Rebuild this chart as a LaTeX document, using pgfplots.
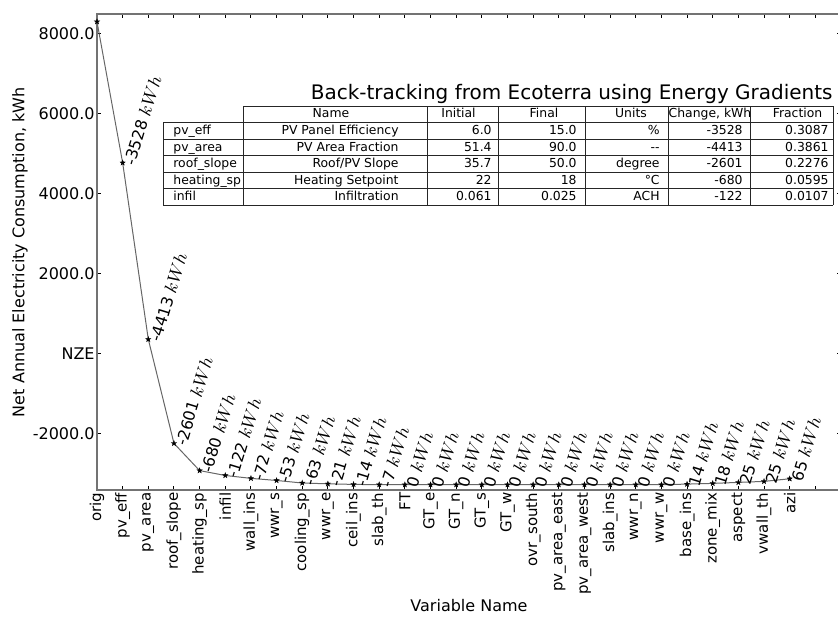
\documentclass[border=0pt]{standalone}
\usepackage{fontspec}
\setmainfont{DejaVu Sans}
\usepackage{pgfplots}
\usepackage{pgfplotstable}
\pgfplotsset{compat=1.18}

% filled five-pointed star marker
\pgfdeclareplotmark{fstar}{%
  \pgfpathmoveto{\pgfqpointpolar{90}{\pgfplotmarksize}}%
  \pgfpathlineto{\pgfqpointpolar{126}{0.4\pgfplotmarksize}}%
  \pgfpathlineto{\pgfqpointpolar{162}{\pgfplotmarksize}}%
  \pgfpathlineto{\pgfqpointpolar{198}{0.4\pgfplotmarksize}}%
  \pgfpathlineto{\pgfqpointpolar{234}{\pgfplotmarksize}}%
  \pgfpathlineto{\pgfqpointpolar{270}{0.4\pgfplotmarksize}}%
  \pgfpathlineto{\pgfqpointpolar{306}{\pgfplotmarksize}}%
  \pgfpathlineto{\pgfqpointpolar{342}{0.4\pgfplotmarksize}}%
  \pgfpathlineto{\pgfqpointpolar{18}{\pgfplotmarksize}}%
  \pgfpathlineto{\pgfqpointpolar{54}{0.4\pgfplotmarksize}}%
  \pgfpathclose
  \pgfusepathqfillstroke}

% net annual electricity after each variable change, and the change itself
\pgfplotstableread{
x y chg
0 8300 0
1 4772 -3528
2 359 -4413
3 -2242 -2601
4 -2922 -680
5 -3044 -122
6 -3116 -72
7 -3169 -53
8 -3232 -63
9 -3253 -21
10 -3267 -14
11 -3274 -7
12 -3274 0
13 -3274 0
14 -3274 0
15 -3274 0
16 -3274 0
17 -3274 0
18 -3274 0
19 -3274 0
20 -3274 0
21 -3274 0
22 -3274 0
23 -3260 14
24 -3242 18
25 -3217 25
26 -3192 25
27 -3127 65
}\chain

\begin{document}
\begin{tikzpicture}
\begin{axis}[
  name=ax, at={(0,0)}, anchor=south west,
  scale only axis, width=372pt, height=238.15pt,
  xmin=0, xmax=29, ymin=-3415, ymax=8492,
  xtick={0,...,28},
  xticklabels={orig,pv\_eff,pv\_area,roof\_slope,heating\_sp,infil,wall\_ins,wwr\_s,cooling\_sp,wwr\_e,ceil\_ins,slab\_th,FT,GT\_e,GT\_n,GT\_s,GT\_w,ovr\_south,pv\_area\_east,pv\_area\_west,slab\_ins,wwr\_n,wwr\_w,base\_ins,zone\_mix,aspect,vwall\_th,azi,{}},
  ytick={-2000,0,2000,4000,6000,8000},
  yticklabels={-2000.0,NZE,2000.0,4000.0,6000.0,8000.0},
  tick align=inside, major tick length=2pt,
  tick style={black, line width=0.5pt},
  axis line style={black!55, line width=1pt},
  x tick label style={rotate=90, anchor=east, font=\fontsize{7.5}{9}\selectfont, inner sep=1pt},
  y tick label style={font=\fontsize{8}{9.6}\selectfont, inner sep=1pt},
  xlabel={Variable Name},
  ylabel={Net Annual Electricity Consumption, kWh},
  label style={font=\fontsize{8}{9.6}\selectfont},
  xlabel style={at={(axis description cs:0.5,-0.255)}, anchor=base},
  ylabel style={at={(axis description cs:-0.1035,0.5)}, anchor=center},
  clip=false,
]
\addplot[black!60, line width=0.5pt, mark=fstar, mark size=1.35pt,
  mark options={fill=black, draw=black, line width=0.2pt}]
  table[x=x, y=y] {\chain};
\addplot[draw=none, mark=*, mark size=0.1pt, mark options={draw=none, fill=none},
  restrict x to domain=1:30,
  point meta=explicit symbolic,
  nodes near coords={\pgfplotspointmeta{} {\fontsize{9}{10}\selectfont$kWh$}},
  every node near coord/.append style={rotate=73, anchor=north west, inner sep=0pt,
    font=\fontsize{7.9}{9}\selectfont, black}]
  table[x=x, y=y, meta=chg] {\chain};
\end{axis}

% summary table of the leading variables
\begin{scope}[shift={(-48.5pt,241.65pt)}, x=0.5pt, y=-0.5pt,
  every node/.style={inner sep=0pt, font=\fontsize{6.2}{7.4}\selectfont}]
  \fill[white] (243,99) rectangle (833,115.5);
  \fill[white] (163,115.5) rectangle (833,198);
  \begin{scope}[line width=0.5pt, black!85]
    \draw (243,99) -- (833,99);
    \foreach \yy in {115.5,132,148.5,165,181.5,198} \draw (163,\yy) -- (833,\yy);
    \draw (163,115.5) -- (163,198);
    \foreach \xx in {243,427,498,585,668,750,833} \draw (\xx,99) -- (\xx,198);
  \end{scope}
  \node[anchor=base] at (331,110.7) {Name};
  \node[anchor=base] at (458.5,110.7) {Initial};
  \node[anchor=base] at (544,110.7) {Final};
  \node[anchor=base] at (631,110.7) {Units};
  \node[anchor=base] at (710,110.7) {Change, kWh};
  \node[anchor=base] at (797.5,110.7) {Fraction};
  \foreach \r/\v/\n/\i/\f/\u/\c/\q in {
    0/pv\_eff/PV Panel Efficiency/6.0/15.0/\%/-3528/0.3087,
    1/pv\_area/PV Area Fraction/51.4/90.0/-{}-/-4413/0.3861,
    2/roof\_slope/Roof\slash PV Slope/35.7/50.0/degree/-2601/0.2276,
    3/heating\_sp/Heating Setpoint/22/18/°C/-680/0.0595,
    4/infil/Infiltration/0.061/0.025/ACH/-122/0.0107} {
    \pgfmathsetmacro\bl{127.5+16.5*\r}
    \node[anchor=base west] at (173,\bl) {\v};
    \node[anchor=base east] at (399,\bl) {\n};
    \node[anchor=base east] at (492,\bl) {\i};
    \node[anchor=base east] at (577,\bl) {\f};
    \node[anchor=base east] at (660,\bl) {\u};
    \node[anchor=base east] at (743,\bl) {\c};
    \node[anchor=base east] at (829,\bl) {\q};
  }
  \node[anchor=base east, font=\fontsize{10}{12}\selectfont] at (833,92)
    {Back-tracking from Ecoterra using Energy Gradients};
\end{scope}

\pgfresetboundingbox
\path[use as bounding box] (-48.5pt,-63.85pt) rectangle (370.5pt,245.15pt);
\end{tikzpicture}
\end{document}
